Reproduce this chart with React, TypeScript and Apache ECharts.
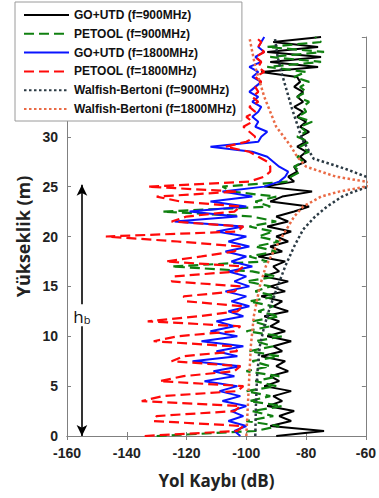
import React, { useEffect, useRef } from "react";
import * as echarts from "echarts";

// Heights (m) for the simulated profiles, 0.5 m step
const heights = [
  0, 0.5, 1, 1.5, 2, 2.5, 3, 3.5, 4, 4.5, 5, 5.5, 6, 6.5, 7, 7.5, 8, 8.5, 9, 9.5,
  10, 10.5, 11, 11.5, 12, 12.5, 13, 13.5, 14, 14.5, 15, 15.5, 16, 16.5, 17, 17.5, 18, 18.5, 19, 19.5,
  20, 20.5, 21, 21.5, 22, 22.5, 23, 23.5, 24, 24.5, 25, 25.5, 26, 26.5, 27, 27.5, 28, 28.5, 29, 29.5,
  30, 30.5, 31, 31.5, 32, 32.5, 33, 33.5, 34, 34.5, 35, 35.5, 36, 36.5, 37, 37.5, 38, 38.5, 39, 39.5, 40,
];

// GO+UTD (f=900MHz)
const goUtd900 = [
  -90, -74, -92, -85, -89, -84, -93, -88, -91, -85, -94, -89, -92, -86, -90, -87, -95, -88, -91, -85,
  -93, -87, -92, -89, -94, -86, -91, -88, -95, -87, -92, -86, -94, -89, -91, -87, -96, -88, -92, -86,
  -90, -85, -93, -86, -90, -84, -79, -92, -88, -78, -94, -84, -86, -83, -84, -80, -82, -80, -83, -80,
  -82, -79, -82, -80, -83, -81, -84, -81, -83, -81, -84, -82, -83, -95, -76, -92, -75, -93, -76, -91, -75,
];

// PETOOL (f=900MHz)
const petool900 = [
  -130, -97, -89, -100, -91, -98, -88, -99, -92, -100, -90, -97, -89, -100, -92, -98, -89, -99, -91, -97,
  -88, -100, -92, -98, -89, -96, -91, -99, -90, -97, -92, -100, -90, -98, -125, -93, -99, -90, -97, -89,
  -96, -91, -99, -90, -98, -128, -92, -97, -90, -105, -108, -86, -85, -82, -84, -81, -83, -79, -82, -79,
  -83, -80, -82, -78, -83, -80, -81, -79, -83, -80, -82, -79, -84, -80, -93, -75, -92, -74, -93, -75, -77,
];

// GO+UTD (f=1800MHz)
const goUtd1800 = [
  -102, -104, -100, -106, -101, -105, -100, -108, -102, -109, -103, -114, -104, -111, -102, -118, -103, -110, -101, -115,
  -103, -112, -104, -110, -101, -106, -99, -105, -100, -107, -99, -104, -100, -106, -98, -105, -100, -107, -99, -106,
  -100, -110, -101, -124, -103, -119, -100, -112, -98, -108, -94, -89, -87, -86, -89, -91, -93, -98, -112, -96,
  -95, -93, -97, -96, -98, -96, -95, -98, -96, -99, -97, -95, -98, -96, -99, -95, -97, -94, -96, -95, -94,
];

// PETOOL (f=1800MHz)
const petool1800 = [
  -134, -103, -101, -131, -130, -104, -102, -135, -128, -103, -101, -129, -121, -104, -102, -125, -121, -103, -105, -131,
  -123, -104, -102, -133, -116, -103, -101, -120, -121, -104, -102, -125, -124, -103, -101, -127, -115, -104, -102, -123,
  -147, -103, -101, -125, -120, -104, -102, -122, -130, -103, -133, -99, -94, -92, -92, -93, -96, -99, -107, -100,
  -97, -99, -101, -98, -100, -97, -99, -96, -98, -96, -97, -95, -97, -94, -96, -95, -97, -94, -96, -95, -97,
];

// Walfish-Bertoni (f=900MHz)
const wb900Heights = [0, 3, 6, 9, 11, 13, 15, 17, 19, 20.7, 22, 23, 24, 24.5, 24.9, 25.4, 26, 26.8, 27.8, 29.8, 32.8, 36.2, 38, 40];
const wb900 = [-97, -96.8, -96.4, -95.5, -94, -92, -89.5, -87, -84, -81, -77, -73, -68, -64, -60, -52, -60, -67, -77.5, -81.4, -84.7, -88, -89.5, -90.5];

// Walfish-Bertoni (f=1800MHz)
const wb1800Heights = [0, 3, 6, 9, 12, 15, 17, 19, 20, 21, 22, 23, 24, 24.5, 25, 25.25, 25.5, 26, 27, 28, 29, 31, 34, 37, 40];
const wb1800 = [-100, -99.5, -99, -98.5, -97.5, -95.5, -93.5, -90, -88, -86, -84, -81, -75, -69, -60, -55, -60, -70, -80, -83, -85, -90, -94, -97, -99];

const seriesNames = [
  "GO+UTD (f=900MHz)",
  "PETOOL (f=900MHz)",
  "GO+UTD (f=1800MHz)",
  "PETOOL (f=1800MHz)",
  "Walfish-Bertoni (f=900MHz)",
  "Walfish-Bertoni (f=1800MHz)",
];

const xTicks = { min: -160, max: -60, interval: 20 };
const yTicks = { min: 0, max: 40, interval: 5 };

// building height annotation (h_b)
const hbX = -155;
const hbTop = 25.2;
const hbGapTop = 13.2;
const hbGapBottom = 11;
const hbLabelY = 12.1;

const pair = (vals: number[], hs: number[]) => vals.map((v, i) => [v, hs[i]]);

export default function App() {
  const ref = useRef<HTMLDivElement>(null);

  useEffect(() => {
    const chart = echarts.init(ref.current!, null, { renderer: "svg" });
    const tickFont = { fontFamily: "Liberation Sans", fontWeight: "bold" as const, fontSize: 14, color: "#222" };
    const nameFont = { fontFamily: "Open Sans", fontWeight: "bold" as const, fontSize: 17, color: "#222" };
    const axisLine = { show: true, lineStyle: { color: "#808080", width: 1 } };
    const axisTick = { show: true, inside: true, length: 4, lineStyle: { color: "#808080" } };

    const mk = (name: string, data: number[][], color: string, width: number, type: any, z: number) => ({
      name,
      type: "line",
      data,
      symbol: "none",
      showSymbol: false,
      clip: true,
      silent: true,
      z,
      itemStyle: { color },
      lineStyle: { color, width, type, cap: "butt" },
    });

    const dashed = [10, 5];
    const dotted = [2.5, 2.5];

    const series: any[] = [
      mk(seriesNames[0], pair(goUtd900, heights), "#000000", 2, "solid", 2),
      mk(seriesNames[1], pair(petool900, heights), "#108010", 2.2, dashed, 3),
      mk(seriesNames[2], pair(goUtd1800, heights), "#0a14ff", 2, "solid", 4),
      mk(seriesNames[3], pair(petool1800, heights), "#ff0a0a", 2.2, dashed, 5),
      mk(seriesNames[4], pair(wb900, wb900Heights), "#2b3a44", 2.5, dotted, 6),
      mk(seriesNames[5], pair(wb1800, wb1800Heights), "#ea6a45", 2.5, dotted, 7),
    ];

    // annotation arrow + label
    series.push({
      name: "hb",
      type: "line",
      data: [],
      symbol: "none",
      silent: true,
      z: 8,
      markLine: {
        silent: true,
        symbol: ["none", "arrow"],
        symbolSize: [8, 11],
        label: { show: false },
        lineStyle: { color: "#000", width: 1.6, type: "solid" },
        data: [
          [{ coord: [hbX, hbGapTop] }, { coord: [hbX, hbTop] }],
          [{ coord: [hbX, hbGapBottom] }, { coord: [hbX, yTicks.min] }],
        ],
      },
      markPoint: {
        silent: true,
        symbol: "circle",
        symbolSize: 0,
        label: {
          show: true,
          position: "inside",
          formatter: "{a|h}{b|b}",
          rich: {
            a: { fontFamily: "Open Sans", fontSize: 17, color: "#111", verticalAlign: "bottom" },
            b: { fontFamily: "Open Sans", fontSize: 11, color: "#111", verticalAlign: "top", padding: [8, 0, 0, 0] },
          },
        },
        data: [{ coord: [hbX, hbLabelY] }],
      },
    });

    chart.setOption({
      animation: false,
      backgroundColor: "#ffffff",
      grid: { left: 67, right: 13, top: 37, bottom: 62, containLabel: false },
      legend: {
        data: seriesNames,
        orient: "vertical",
        left: 15,
        top: 2,
        padding: [6, 6, 5, 8],
        itemWidth: 45,
        itemHeight: 14,
        itemGap: 4.8,
        backgroundColor: "#ffffff",
        borderColor: "#9a9a9a",
        borderWidth: 1,
        z: 20,
        selectedMode: false,
        itemStyle: { opacity: 0 },
        textStyle: { fontFamily: "Liberation Sans", fontWeight: "bold", fontSize: 12, color: "#111", lineHeight: 14 },
      },
      xAxis: [
        {
          type: "value",
          position: "bottom",
          ...xTicks,
          axisLine,
          axisTick,
          splitLine: { show: false },
          axisLabel: { ...tickFont, margin: 10 },
          name: "Yol Kaybı (dB)",
          nameLocation: "middle",
          nameGap: 36,
          nameTextStyle: nameFont,
        },
        {
          type: "value",
          position: "top",
          ...xTicks,
          axisLine,
          axisTick,
          splitLine: { show: false },
          axisLabel: { show: false },
        },
      ],
      yAxis: [
        {
          type: "value",
          position: "left",
          ...yTicks,
          axisLine,
          axisTick,
          splitLine: { show: false },
          axisLabel: { ...tickFont, margin: 9 },
          name: "Yükseklik (m)",
          nameLocation: "middle",
          nameGap: 31,
          nameTextStyle: { ...nameFont, fontSize: 18 },
        },
        {
          type: "value",
          position: "right",
          ...yTicks,
          axisLine,
          axisTick,
          splitLine: { show: false },
          axisLabel: { show: false },
        },
      ],
      series,
    });

    return () => chart.dispose();
  }, []);

  return (
    <div
      ref={ref}
      style={{ position: "fixed", left: 0, top: 0, width: 379, height: 498, background: "#fff" }}
    />
  );
}
